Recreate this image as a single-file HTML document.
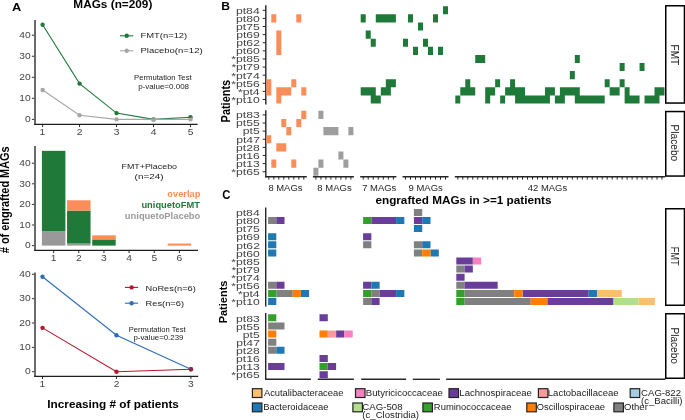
<!DOCTYPE html>
<html><head><meta charset="utf-8"><style>
html,body{margin:0;padding:0;background:#fff;overflow:hidden;}
svg{display:block;will-change:transform;filter:blur(0.25px);font-family:"Liberation Sans", sans-serif;}
</style></head><body>
<svg width="685" height="420" viewBox="0 0 685 420">
<rect width="685" height="420" fill="#fff"/>
<text transform="translate(11.88,10.70) scale(1.1669,1.0000)" font-size="11.00" font-weight="bold" fill="#000">A</text>
<text transform="translate(73.33,8.00) scale(1.0364,1.0000)" font-size="11.40" font-weight="bold" fill="#000">MAGs (n=209)</text>
<line x1="35.00" y1="20.00" x2="35.00" y2="124.90" stroke="#6b6b6b" stroke-width="2.0" />
<line x1="34.20" y1="124.40" x2="197.60" y2="124.40" stroke="#1e1e1e" stroke-width="1.2" />
<line x1="31.90" y1="119.40" x2="34.20" y2="119.40" stroke="#333" stroke-width="1.0" />
<line x1="31.90" y1="98.35" x2="34.20" y2="98.35" stroke="#333" stroke-width="1.0" />
<line x1="31.90" y1="77.30" x2="34.20" y2="77.30" stroke="#333" stroke-width="1.0" />
<line x1="31.90" y1="56.25" x2="34.20" y2="56.25" stroke="#333" stroke-width="1.0" />
<line x1="31.90" y1="35.20" x2="34.20" y2="35.20" stroke="#333" stroke-width="1.0" />
<line x1="42.60" y1="125.00" x2="42.60" y2="127.10" stroke="#2a2a2a" stroke-width="1.0" />
<line x1="79.57" y1="125.00" x2="79.57" y2="127.10" stroke="#2a2a2a" stroke-width="1.0" />
<line x1="116.54" y1="125.00" x2="116.54" y2="127.10" stroke="#2a2a2a" stroke-width="1.0" />
<line x1="153.51" y1="125.00" x2="153.51" y2="127.10" stroke="#2a2a2a" stroke-width="1.0" />
<line x1="190.48" y1="125.00" x2="190.48" y2="127.10" stroke="#2a2a2a" stroke-width="1.0" />
<text transform="translate(24.97,122.14) scale(1.2200,1.0000)" font-size="8.40" font-weight="normal" fill="#444444">0</text>
<text transform="translate(19.28,101.09) scale(1.2200,1.0000)" font-size="8.40" font-weight="normal" fill="#444444">10</text>
<text transform="translate(19.28,80.04) scale(1.2200,1.0000)" font-size="8.40" font-weight="normal" fill="#444444">20</text>
<text transform="translate(19.28,58.99) scale(1.2200,1.0000)" font-size="8.40" font-weight="normal" fill="#444444">30</text>
<text transform="translate(19.28,37.94) scale(1.2200,1.0000)" font-size="8.40" font-weight="normal" fill="#444444">40</text>
<text transform="translate(39.60,134.80) scale(1.2200,1.0000)" font-size="8.40" font-weight="normal" fill="#444444">1</text>
<text transform="translate(76.73,134.80) scale(1.2200,1.0000)" font-size="8.40" font-weight="normal" fill="#444444">2</text>
<text transform="translate(113.70,134.80) scale(1.2200,1.0000)" font-size="8.40" font-weight="normal" fill="#444444">3</text>
<text transform="translate(150.72,134.80) scale(1.2200,1.0000)" font-size="8.40" font-weight="normal" fill="#444444">4</text>
<text transform="translate(187.64,134.80) scale(1.2200,1.0000)" font-size="8.40" font-weight="normal" fill="#444444">5</text>
<circle cx="42.60" cy="24.68" r="2.2" fill="#1f7a3a"/>
<circle cx="79.57" cy="83.62" r="2.2" fill="#1f7a3a"/>
<circle cx="116.54" cy="113.09" r="2.2" fill="#1f7a3a"/>
<circle cx="153.51" cy="119.40" r="2.2" fill="#1f7a3a"/>
<circle cx="190.48" cy="117.30" r="2.2" fill="#1f7a3a"/>
<circle cx="42.60" cy="89.93" r="2.2" fill="#a6a6a6"/>
<circle cx="79.57" cy="115.19" r="2.2" fill="#a6a6a6"/>
<circle cx="116.54" cy="119.40" r="2.2" fill="#a6a6a6"/>
<circle cx="153.51" cy="119.40" r="2.2" fill="#a6a6a6"/>
<circle cx="190.48" cy="119.40" r="2.2" fill="#a6a6a6"/>
<polyline points="42.60,24.68 79.57,83.62 116.54,113.09 153.51,119.40 190.48,117.30" fill="none" stroke="#1f7a3a" stroke-width="1.1"/>
<polyline points="42.60,89.93 79.57,115.19 116.54,119.40 153.51,119.40 190.48,119.40" fill="none" stroke="#a6a6a6" stroke-width="1.1"/>
<line x1="120.00" y1="35.80" x2="133.30" y2="35.80" stroke="#1f7a3a" stroke-width="1.1" />
<circle cx="126.7" cy="35.8" r="2.2" fill="#1f7a3a"/>
<line x1="120.00" y1="50.80" x2="133.30" y2="50.80" stroke="#a6a6a6" stroke-width="1.1" />
<circle cx="126.7" cy="50.8" r="2.2" fill="#a6a6a6"/>
<text transform="translate(140.45,37.80) scale(1.2395,1.0000)" font-size="7.60" font-weight="normal" fill="#1a1a1a">FMT(n=12)</text>
<text transform="translate(140.44,53.20) scale(1.2540,1.0000)" font-size="7.60" font-weight="normal" fill="#1a1a1a">Placebo(n=12)</text>
<text transform="translate(134.08,80.00) scale(1.1004,1.0000)" font-size="7.00" font-weight="normal" fill="#1a1a1a">Permutation Test</text>
<text transform="translate(138.18,88.60) scale(1.1433,1.0000)" font-size="7.00" font-weight="normal" fill="#1a1a1a">p-value=0.008</text>
<line x1="35.00" y1="146.00" x2="35.00" y2="250.90" stroke="#6b6b6b" stroke-width="2.0" />
<line x1="34.20" y1="250.40" x2="198.00" y2="250.40" stroke="#1e1e1e" stroke-width="1.2" />
<line x1="31.90" y1="245.60" x2="34.20" y2="245.60" stroke="#333" stroke-width="1.0" />
<line x1="31.90" y1="225.00" x2="34.20" y2="225.00" stroke="#333" stroke-width="1.0" />
<line x1="31.90" y1="204.40" x2="34.20" y2="204.40" stroke="#333" stroke-width="1.0" />
<line x1="31.90" y1="183.80" x2="34.20" y2="183.80" stroke="#333" stroke-width="1.0" />
<line x1="31.90" y1="163.20" x2="34.20" y2="163.20" stroke="#333" stroke-width="1.0" />
<line x1="53.65" y1="251.00" x2="53.65" y2="253.10" stroke="#2a2a2a" stroke-width="1.0" />
<line x1="78.80" y1="251.00" x2="78.80" y2="253.10" stroke="#2a2a2a" stroke-width="1.0" />
<line x1="103.95" y1="251.00" x2="103.95" y2="253.10" stroke="#2a2a2a" stroke-width="1.0" />
<line x1="129.10" y1="251.00" x2="129.10" y2="253.10" stroke="#2a2a2a" stroke-width="1.0" />
<line x1="154.25" y1="251.00" x2="154.25" y2="253.10" stroke="#2a2a2a" stroke-width="1.0" />
<line x1="179.40" y1="251.00" x2="179.40" y2="253.10" stroke="#2a2a2a" stroke-width="1.0" />
<text transform="translate(24.97,248.34) scale(1.2200,1.0000)" font-size="8.40" font-weight="normal" fill="#444444">0</text>
<text transform="translate(19.28,227.74) scale(1.2200,1.0000)" font-size="8.40" font-weight="normal" fill="#444444">10</text>
<text transform="translate(19.28,207.14) scale(1.2200,1.0000)" font-size="8.40" font-weight="normal" fill="#444444">20</text>
<text transform="translate(19.28,186.54) scale(1.2200,1.0000)" font-size="8.40" font-weight="normal" fill="#444444">30</text>
<text transform="translate(19.28,165.94) scale(1.2200,1.0000)" font-size="8.40" font-weight="normal" fill="#444444">40</text>
<text transform="translate(50.65,260.80) scale(1.2200,1.0000)" font-size="8.40" font-weight="normal" fill="#444444">1</text>
<text transform="translate(75.96,260.80) scale(1.2200,1.0000)" font-size="8.40" font-weight="normal" fill="#444444">2</text>
<text transform="translate(101.11,260.80) scale(1.2200,1.0000)" font-size="8.40" font-weight="normal" fill="#444444">3</text>
<text transform="translate(126.31,260.80) scale(1.2200,1.0000)" font-size="8.40" font-weight="normal" fill="#444444">4</text>
<text transform="translate(151.41,260.80) scale(1.2200,1.0000)" font-size="8.40" font-weight="normal" fill="#444444">5</text>
<text transform="translate(176.50,260.80) scale(1.2200,1.0000)" font-size="8.40" font-weight="normal" fill="#444444">6</text>
<rect x="41.90" y="231.18" width="23.50" height="14.42" fill="#999999" />
<rect x="41.90" y="150.84" width="23.50" height="80.34" fill="#1f7a3a" />
<rect x="67.05" y="243.54" width="23.50" height="2.06" fill="#999999" />
<rect x="67.05" y="210.58" width="23.50" height="32.96" fill="#1f7a3a" />
<rect x="67.05" y="200.28" width="23.50" height="10.30" fill="#fc8d59" />
<rect x="92.20" y="239.42" width="23.50" height="6.18" fill="#1f7a3a" />
<rect x="92.20" y="235.30" width="23.50" height="4.12" fill="#fc8d59" />
<rect x="167.65" y="243.54" width="23.50" height="2.06" fill="#fc8d59" />
<text transform="translate(121.49,168.90) scale(1.1854,1.0000)" font-size="7.50" font-weight="normal" fill="#1a1a1a">FMT+Placebo</text>
<text transform="translate(134.61,179.10) scale(1.3214,1.0000)" font-size="7.50" font-weight="normal" fill="#1a1a1a">(n=24)</text>
<text transform="translate(167.33,196.60) scale(1.0808,1.0000)" font-size="8.60" font-weight="bold" fill="#fc8d59">overlap</text>
<text transform="translate(141.44,207.80) scale(1.0831,1.0000)" font-size="8.60" font-weight="bold" fill="#1f7a3a">uniquetoFMT</text>
<text transform="translate(124.84,219.10) scale(1.0904,1.0000)" font-size="8.60" font-weight="bold" fill="#999999">uniquetoPlacebo</text>
<text transform="translate(8.90,253.16) rotate(-90) scale(0.8887,1)" font-size="12.30" font-weight="bold" fill="#000"># of engrafted MAGs</text>
<line x1="35.00" y1="272.50" x2="35.00" y2="376.40" stroke="#6b6b6b" stroke-width="2.0" />
<line x1="34.20" y1="376.30" x2="198.20" y2="376.30" stroke="#1e1e1e" stroke-width="1.2" />
<line x1="31.90" y1="371.70" x2="34.20" y2="371.70" stroke="#333" stroke-width="1.0" />
<line x1="31.90" y1="347.35" x2="34.20" y2="347.35" stroke="#333" stroke-width="1.0" />
<line x1="31.90" y1="323.00" x2="34.20" y2="323.00" stroke="#333" stroke-width="1.0" />
<line x1="31.90" y1="298.65" x2="34.20" y2="298.65" stroke="#333" stroke-width="1.0" />
<line x1="31.90" y1="274.30" x2="34.20" y2="274.30" stroke="#333" stroke-width="1.0" />
<line x1="42.50" y1="376.90" x2="42.50" y2="379.00" stroke="#2a2a2a" stroke-width="1.0" />
<line x1="116.50" y1="376.90" x2="116.50" y2="379.00" stroke="#2a2a2a" stroke-width="1.0" />
<line x1="190.90" y1="376.90" x2="190.90" y2="379.00" stroke="#2a2a2a" stroke-width="1.0" />
<text transform="translate(24.97,374.44) scale(1.2200,1.0000)" font-size="8.40" font-weight="normal" fill="#444444">0</text>
<text transform="translate(19.28,350.09) scale(1.2200,1.0000)" font-size="8.40" font-weight="normal" fill="#444444">10</text>
<text transform="translate(19.28,325.74) scale(1.2200,1.0000)" font-size="8.40" font-weight="normal" fill="#444444">20</text>
<text transform="translate(19.28,301.39) scale(1.2200,1.0000)" font-size="8.40" font-weight="normal" fill="#444444">30</text>
<text transform="translate(19.28,277.04) scale(1.2200,1.0000)" font-size="8.40" font-weight="normal" fill="#444444">40</text>
<text transform="translate(39.50,386.80) scale(1.2200,1.0000)" font-size="8.40" font-weight="normal" fill="#444444">1</text>
<text transform="translate(113.66,386.80) scale(1.2200,1.0000)" font-size="8.40" font-weight="normal" fill="#444444">2</text>
<text transform="translate(188.06,386.80) scale(1.2200,1.0000)" font-size="8.40" font-weight="normal" fill="#444444">3</text>
<circle cx="42.50" cy="276.74" r="2.2" fill="#2f6db5"/>
<circle cx="116.50" cy="335.18" r="2.2" fill="#2f6db5"/>
<circle cx="190.90" cy="369.26" r="2.2" fill="#2f6db5"/>
<circle cx="42.50" cy="327.87" r="2.2" fill="#b2182b"/>
<circle cx="116.50" cy="371.70" r="2.2" fill="#b2182b"/>
<circle cx="190.90" cy="369.26" r="2.2" fill="#b2182b"/>
<polyline points="42.50,276.74 116.50,335.18 190.90,369.26" fill="none" stroke="#2f6db5" stroke-width="1.1"/>
<polyline points="42.50,327.87 116.50,371.70 190.90,369.26" fill="none" stroke="#b2182b" stroke-width="1.1"/>
<line x1="124.90" y1="287.40" x2="138.10" y2="287.40" stroke="#b2182b" stroke-width="1.1" />
<circle cx="131.6" cy="287.4" r="2.2" fill="#b2182b"/>
<line x1="124.90" y1="303.20" x2="138.10" y2="303.20" stroke="#2f6db5" stroke-width="1.1" />
<circle cx="131.6" cy="303.2" r="2.2" fill="#2f6db5"/>
<text transform="translate(145.56,290.50) scale(1.1611,1.0000)" font-size="8.00" font-weight="normal" fill="#1a1a1a">NoRes(n=6)</text>
<text transform="translate(145.56,306.10) scale(1.1625,1.0000)" font-size="8.00" font-weight="normal" fill="#1a1a1a">Res(n=6)</text>
<text transform="translate(128.79,331.70) scale(1.0869,1.0000)" font-size="7.00" font-weight="normal" fill="#1a1a1a">Permutation Test</text>
<text transform="translate(133.39,340.30) scale(1.1237,1.0000)" font-size="7.00" font-weight="normal" fill="#1a1a1a">p-value=0.239</text>
<text transform="translate(47.33,407.80) scale(1.0820,1.0000)" font-size="10.90" font-weight="bold" fill="#000">Increasing # of patients</text>
<text transform="translate(221.21,10.00) scale(1.0458,1.0000)" font-size="11.60" font-weight="bold" fill="#000">B</text>
<text transform="translate(235.95,13.65) scale(1.2700,1.0000)" font-size="9.60" font-weight="normal" fill="#444444">pt84</text>
<line x1="262.70" y1="10.30" x2="265.80" y2="10.30" stroke="#262626" stroke-width="1.0" />
<text transform="translate(236.01,21.76) scale(1.2700,1.0000)" font-size="9.60" font-weight="normal" fill="#444444">pt80</text>
<line x1="262.70" y1="18.41" x2="265.80" y2="18.41" stroke="#262626" stroke-width="1.0" />
<text transform="translate(236.07,29.87) scale(1.2700,1.0000)" font-size="9.60" font-weight="normal" fill="#444444">pt75</text>
<line x1="262.70" y1="26.52" x2="265.80" y2="26.52" stroke="#262626" stroke-width="1.0" />
<text transform="translate(236.14,37.98) scale(1.2700,1.0000)" font-size="9.60" font-weight="normal" fill="#444444">pt69</text>
<line x1="262.70" y1="34.63" x2="265.80" y2="34.63" stroke="#262626" stroke-width="1.0" />
<text transform="translate(236.20,46.09) scale(1.2700,1.0000)" font-size="9.60" font-weight="normal" fill="#444444">pt62</text>
<line x1="262.70" y1="42.74" x2="265.80" y2="42.74" stroke="#262626" stroke-width="1.0" />
<text transform="translate(236.01,54.20) scale(1.2700,1.0000)" font-size="9.60" font-weight="normal" fill="#444444">pt60</text>
<line x1="262.70" y1="50.85" x2="265.80" y2="50.85" stroke="#262626" stroke-width="1.0" />
<text transform="translate(231.32,62.31) scale(1.2700,1.0000)" font-size="9.60" font-weight="normal" fill="#444444">*pt85</text>
<line x1="262.70" y1="58.96" x2="265.80" y2="58.96" stroke="#262626" stroke-width="1.0" />
<text transform="translate(231.38,70.42) scale(1.2700,1.0000)" font-size="9.60" font-weight="normal" fill="#444444">*pt79</text>
<line x1="262.70" y1="67.07" x2="265.80" y2="67.07" stroke="#262626" stroke-width="1.0" />
<text transform="translate(231.20,78.53) scale(1.2700,1.0000)" font-size="9.60" font-weight="normal" fill="#444444">*pt74</text>
<line x1="262.70" y1="75.18" x2="265.80" y2="75.18" stroke="#262626" stroke-width="1.0" />
<text transform="translate(231.32,86.64) scale(1.2700,1.0000)" font-size="9.60" font-weight="normal" fill="#444444">*pt56</text>
<line x1="262.70" y1="83.29" x2="265.80" y2="83.29" stroke="#262626" stroke-width="1.0" />
<text transform="translate(237.96,94.75) scale(1.2700,1.0000)" font-size="9.60" font-weight="normal" fill="#444444">*pt4</text>
<line x1="262.70" y1="91.40" x2="265.80" y2="91.40" stroke="#262626" stroke-width="1.0" />
<text transform="translate(231.26,102.86) scale(1.2700,1.0000)" font-size="9.60" font-weight="normal" fill="#444444">*pt10</text>
<line x1="262.70" y1="99.51" x2="265.80" y2="99.51" stroke="#262626" stroke-width="1.0" />
<text transform="translate(236.07,118.25) scale(1.2700,1.0000)" font-size="9.60" font-weight="normal" fill="#444444">pt83</text>
<line x1="262.70" y1="114.90" x2="265.80" y2="114.90" stroke="#262626" stroke-width="1.0" />
<text transform="translate(236.07,126.37) scale(1.2700,1.0000)" font-size="9.60" font-weight="normal" fill="#444444">pt55</text>
<line x1="262.70" y1="123.02" x2="265.80" y2="123.02" stroke="#262626" stroke-width="1.0" />
<text transform="translate(242.84,134.49) scale(1.2700,1.0000)" font-size="9.60" font-weight="normal" fill="#444444">pt5</text>
<line x1="262.70" y1="131.14" x2="265.80" y2="131.14" stroke="#262626" stroke-width="1.0" />
<text transform="translate(236.20,142.61) scale(1.2700,1.0000)" font-size="9.60" font-weight="normal" fill="#444444">pt47</text>
<line x1="262.70" y1="139.26" x2="265.80" y2="139.26" stroke="#262626" stroke-width="1.0" />
<text transform="translate(236.07,150.73) scale(1.2700,1.0000)" font-size="9.60" font-weight="normal" fill="#444444">pt28</text>
<line x1="262.70" y1="147.38" x2="265.80" y2="147.38" stroke="#262626" stroke-width="1.0" />
<text transform="translate(236.07,158.85) scale(1.2700,1.0000)" font-size="9.60" font-weight="normal" fill="#444444">pt16</text>
<line x1="262.70" y1="155.50" x2="265.80" y2="155.50" stroke="#262626" stroke-width="1.0" />
<text transform="translate(236.07,166.97) scale(1.2700,1.0000)" font-size="9.60" font-weight="normal" fill="#444444">pt13</text>
<line x1="262.70" y1="163.62" x2="265.80" y2="163.62" stroke="#262626" stroke-width="1.0" />
<text transform="translate(231.32,175.09) scale(1.2700,1.0000)" font-size="9.60" font-weight="normal" fill="#444444">*pt65</text>
<line x1="262.70" y1="171.74" x2="265.80" y2="171.74" stroke="#262626" stroke-width="1.0" />
<line x1="265.80" y1="5.30" x2="265.80" y2="104.50" stroke="#262626" stroke-width="1.4" />
<line x1="265.80" y1="110.30" x2="265.80" y2="177.40" stroke="#262626" stroke-width="1.4" />
<line x1="265.10" y1="176.80" x2="306.80" y2="176.80" stroke="#262626" stroke-width="1.4" />
<line x1="268.80" y1="176.80" x2="268.80" y2="179.60" stroke="#262626" stroke-width="1.0" />
<line x1="273.80" y1="176.80" x2="273.80" y2="179.60" stroke="#262626" stroke-width="1.0" />
<line x1="278.80" y1="176.80" x2="278.80" y2="179.60" stroke="#262626" stroke-width="1.0" />
<line x1="283.80" y1="176.80" x2="283.80" y2="179.60" stroke="#262626" stroke-width="1.0" />
<line x1="288.80" y1="176.80" x2="288.80" y2="179.60" stroke="#262626" stroke-width="1.0" />
<line x1="293.80" y1="176.80" x2="293.80" y2="179.60" stroke="#262626" stroke-width="1.0" />
<line x1="298.80" y1="176.80" x2="298.80" y2="179.60" stroke="#262626" stroke-width="1.0" />
<line x1="303.80" y1="176.80" x2="303.80" y2="179.60" stroke="#262626" stroke-width="1.0" />
<line x1="312.90" y1="176.80" x2="353.90" y2="176.80" stroke="#262626" stroke-width="1.4" />
<line x1="315.90" y1="176.80" x2="315.90" y2="179.60" stroke="#262626" stroke-width="1.0" />
<line x1="320.90" y1="176.80" x2="320.90" y2="179.60" stroke="#262626" stroke-width="1.0" />
<line x1="325.90" y1="176.80" x2="325.90" y2="179.60" stroke="#262626" stroke-width="1.0" />
<line x1="330.90" y1="176.80" x2="330.90" y2="179.60" stroke="#262626" stroke-width="1.0" />
<line x1="335.90" y1="176.80" x2="335.90" y2="179.60" stroke="#262626" stroke-width="1.0" />
<line x1="340.90" y1="176.80" x2="340.90" y2="179.60" stroke="#262626" stroke-width="1.0" />
<line x1="345.90" y1="176.80" x2="345.90" y2="179.60" stroke="#262626" stroke-width="1.0" />
<line x1="350.90" y1="176.80" x2="350.90" y2="179.60" stroke="#262626" stroke-width="1.0" />
<line x1="360.18" y1="176.80" x2="396.40" y2="176.80" stroke="#262626" stroke-width="1.4" />
<line x1="363.20" y1="176.80" x2="363.20" y2="179.60" stroke="#262626" stroke-width="1.0" />
<line x1="368.23" y1="176.80" x2="368.23" y2="179.60" stroke="#262626" stroke-width="1.0" />
<line x1="373.26" y1="176.80" x2="373.26" y2="179.60" stroke="#262626" stroke-width="1.0" />
<line x1="378.29" y1="176.80" x2="378.29" y2="179.60" stroke="#262626" stroke-width="1.0" />
<line x1="383.32" y1="176.80" x2="383.32" y2="179.60" stroke="#262626" stroke-width="1.0" />
<line x1="388.35" y1="176.80" x2="388.35" y2="179.60" stroke="#262626" stroke-width="1.0" />
<line x1="393.38" y1="176.80" x2="393.38" y2="179.60" stroke="#262626" stroke-width="1.0" />
<line x1="402.50" y1="176.80" x2="448.50" y2="176.80" stroke="#262626" stroke-width="1.4" />
<line x1="405.50" y1="176.80" x2="405.50" y2="179.60" stroke="#262626" stroke-width="1.0" />
<line x1="410.50" y1="176.80" x2="410.50" y2="179.60" stroke="#262626" stroke-width="1.0" />
<line x1="415.50" y1="176.80" x2="415.50" y2="179.60" stroke="#262626" stroke-width="1.0" />
<line x1="420.50" y1="176.80" x2="420.50" y2="179.60" stroke="#262626" stroke-width="1.0" />
<line x1="425.50" y1="176.80" x2="425.50" y2="179.60" stroke="#262626" stroke-width="1.0" />
<line x1="430.50" y1="176.80" x2="430.50" y2="179.60" stroke="#262626" stroke-width="1.0" />
<line x1="435.50" y1="176.80" x2="435.50" y2="179.60" stroke="#262626" stroke-width="1.0" />
<line x1="440.50" y1="176.80" x2="440.50" y2="179.60" stroke="#262626" stroke-width="1.0" />
<line x1="445.50" y1="176.80" x2="445.50" y2="179.60" stroke="#262626" stroke-width="1.0" />
<line x1="454.81" y1="176.80" x2="664.97" y2="176.80" stroke="#262626" stroke-width="1.4" />
<line x1="457.80" y1="176.80" x2="457.80" y2="179.60" stroke="#262626" stroke-width="1.0" />
<line x1="462.78" y1="176.80" x2="462.78" y2="179.60" stroke="#262626" stroke-width="1.0" />
<line x1="467.76" y1="176.80" x2="467.76" y2="179.60" stroke="#262626" stroke-width="1.0" />
<line x1="472.74" y1="176.80" x2="472.74" y2="179.60" stroke="#262626" stroke-width="1.0" />
<line x1="477.72" y1="176.80" x2="477.72" y2="179.60" stroke="#262626" stroke-width="1.0" />
<line x1="482.70" y1="176.80" x2="482.70" y2="179.60" stroke="#262626" stroke-width="1.0" />
<line x1="487.68" y1="176.80" x2="487.68" y2="179.60" stroke="#262626" stroke-width="1.0" />
<line x1="492.66" y1="176.80" x2="492.66" y2="179.60" stroke="#262626" stroke-width="1.0" />
<line x1="497.64" y1="176.80" x2="497.64" y2="179.60" stroke="#262626" stroke-width="1.0" />
<line x1="502.62" y1="176.80" x2="502.62" y2="179.60" stroke="#262626" stroke-width="1.0" />
<line x1="507.60" y1="176.80" x2="507.60" y2="179.60" stroke="#262626" stroke-width="1.0" />
<line x1="512.58" y1="176.80" x2="512.58" y2="179.60" stroke="#262626" stroke-width="1.0" />
<line x1="517.56" y1="176.80" x2="517.56" y2="179.60" stroke="#262626" stroke-width="1.0" />
<line x1="522.54" y1="176.80" x2="522.54" y2="179.60" stroke="#262626" stroke-width="1.0" />
<line x1="527.52" y1="176.80" x2="527.52" y2="179.60" stroke="#262626" stroke-width="1.0" />
<line x1="532.50" y1="176.80" x2="532.50" y2="179.60" stroke="#262626" stroke-width="1.0" />
<line x1="537.48" y1="176.80" x2="537.48" y2="179.60" stroke="#262626" stroke-width="1.0" />
<line x1="542.46" y1="176.80" x2="542.46" y2="179.60" stroke="#262626" stroke-width="1.0" />
<line x1="547.44" y1="176.80" x2="547.44" y2="179.60" stroke="#262626" stroke-width="1.0" />
<line x1="552.42" y1="176.80" x2="552.42" y2="179.60" stroke="#262626" stroke-width="1.0" />
<line x1="557.40" y1="176.80" x2="557.40" y2="179.60" stroke="#262626" stroke-width="1.0" />
<line x1="562.38" y1="176.80" x2="562.38" y2="179.60" stroke="#262626" stroke-width="1.0" />
<line x1="567.36" y1="176.80" x2="567.36" y2="179.60" stroke="#262626" stroke-width="1.0" />
<line x1="572.34" y1="176.80" x2="572.34" y2="179.60" stroke="#262626" stroke-width="1.0" />
<line x1="577.32" y1="176.80" x2="577.32" y2="179.60" stroke="#262626" stroke-width="1.0" />
<line x1="582.30" y1="176.80" x2="582.30" y2="179.60" stroke="#262626" stroke-width="1.0" />
<line x1="587.28" y1="176.80" x2="587.28" y2="179.60" stroke="#262626" stroke-width="1.0" />
<line x1="592.26" y1="176.80" x2="592.26" y2="179.60" stroke="#262626" stroke-width="1.0" />
<line x1="597.24" y1="176.80" x2="597.24" y2="179.60" stroke="#262626" stroke-width="1.0" />
<line x1="602.22" y1="176.80" x2="602.22" y2="179.60" stroke="#262626" stroke-width="1.0" />
<line x1="607.20" y1="176.80" x2="607.20" y2="179.60" stroke="#262626" stroke-width="1.0" />
<line x1="612.18" y1="176.80" x2="612.18" y2="179.60" stroke="#262626" stroke-width="1.0" />
<line x1="617.16" y1="176.80" x2="617.16" y2="179.60" stroke="#262626" stroke-width="1.0" />
<line x1="622.14" y1="176.80" x2="622.14" y2="179.60" stroke="#262626" stroke-width="1.0" />
<line x1="627.12" y1="176.80" x2="627.12" y2="179.60" stroke="#262626" stroke-width="1.0" />
<line x1="632.10" y1="176.80" x2="632.10" y2="179.60" stroke="#262626" stroke-width="1.0" />
<line x1="637.08" y1="176.80" x2="637.08" y2="179.60" stroke="#262626" stroke-width="1.0" />
<line x1="642.06" y1="176.80" x2="642.06" y2="179.60" stroke="#262626" stroke-width="1.0" />
<line x1="647.04" y1="176.80" x2="647.04" y2="179.60" stroke="#262626" stroke-width="1.0" />
<line x1="652.02" y1="176.80" x2="652.02" y2="179.60" stroke="#262626" stroke-width="1.0" />
<line x1="657.00" y1="176.80" x2="657.00" y2="179.60" stroke="#262626" stroke-width="1.0" />
<line x1="661.98" y1="176.80" x2="661.98" y2="179.60" stroke="#262626" stroke-width="1.0" />
<text transform="translate(268.38,190.90) scale(1.0143,1.0000)" font-size="9.30" font-weight="normal" fill="#1e1e1e">8 MAGs</text>
<text transform="translate(317.37,190.90) scale(1.0235,1.0000)" font-size="9.30" font-weight="normal" fill="#1e1e1e">8 MAGs</text>
<text transform="translate(362.13,190.90) scale(1.0188,1.0000)" font-size="9.30" font-weight="normal" fill="#1e1e1e">7 MAGs</text>
<text transform="translate(408.57,190.90) scale(1.0174,1.0000)" font-size="9.30" font-weight="normal" fill="#1e1e1e">9 MAGs</text>
<text transform="translate(527.81,190.90) scale(1.0165,1.0000)" font-size="9.30" font-weight="normal" fill="#1e1e1e">42 MAGs</text>
<path d="M271.30 14.36h5.00v8.11h-5.00zM296.30 14.36h5.00v8.11h-5.00zM276.30 30.57h5.00v8.11h-5.00zM276.30 38.68h5.00v8.11h-5.00zM276.30 46.79h5.00v8.11h-5.00zM266.30 79.23h5.00v8.11h-5.00zM291.30 79.23h5.00v8.11h-5.00zM266.30 87.34h5.00v8.11h-5.00zM276.30 87.34h15.00v8.11h-15.00zM301.30 87.34h5.00v8.11h-5.00zM276.30 95.45h5.00v8.11h-5.00zM301.30 110.84h5.00v8.12h-5.00zM281.30 118.96h5.00v8.12h-5.00zM296.30 118.96h5.00v8.12h-5.00zM286.30 127.08h5.00v8.12h-5.00zM266.30 135.20h5.00v8.12h-5.00zM276.30 143.32h10.00v8.12h-10.00zM271.30 159.56h5.00v8.12h-5.00zM291.30 159.56h5.00v8.12h-5.00z" fill="#fc8d59"/>
<path d="M318.40 110.84h5.00v8.12h-5.00zM323.40 127.08h15.00v8.12h-15.00zM348.40 127.08h5.00v8.12h-5.00zM338.40 151.44h5.00v8.12h-5.00zM318.40 159.56h5.00v8.12h-5.00zM343.40 159.56h5.00v8.12h-5.00zM313.40 167.68h5.00v8.12h-5.00z" fill="#9e9e9e"/>
<path d="M360.69 14.36h5.03v8.11h-5.03zM375.77 14.36h20.12v8.11h-20.12zM365.71 30.57h5.03v8.11h-5.03zM370.75 38.68h5.03v8.11h-5.03zM385.83 79.23h10.06v8.11h-10.06zM360.69 87.34h15.09v8.11h-15.09zM380.81 87.34h10.06v8.11h-10.06zM370.75 95.45h10.06v8.11h-10.06zM443.00 6.25h5.00v8.11h-5.00zM408.00 14.36h5.00v8.11h-5.00zM433.00 14.36h5.00v8.11h-5.00zM418.00 22.46h5.00v8.11h-5.00zM403.00 38.68h5.00v8.11h-5.00zM423.00 38.68h5.00v8.11h-5.00zM413.00 46.79h5.00v8.11h-5.00zM428.00 46.79h5.00v8.11h-5.00zM438.00 46.79h5.00v8.11h-5.00zM475.23 54.90h9.96v8.11h-9.96zM574.83 54.90h4.98v8.11h-4.98zM619.65 63.01h4.98v8.11h-4.98zM639.57 63.01h4.98v8.11h-4.98zM569.85 71.12h4.98v8.11h-4.98zM465.27 79.23h4.98v8.11h-4.98zM495.15 79.23h4.98v8.11h-4.98zM510.09 79.23h4.98v8.11h-4.98zM604.71 79.23h4.98v8.11h-4.98zM619.65 79.23h4.98v8.11h-4.98zM460.29 87.34h14.94v8.11h-14.94zM485.19 87.34h9.96v8.11h-9.96zM505.11 87.34h19.92v8.11h-19.92zM544.95 87.34h9.96v8.11h-9.96zM559.89 87.34h19.92v8.11h-19.92zM609.69 87.34h9.96v8.11h-9.96zM624.63 87.34h4.98v8.11h-4.98zM654.51 87.34h9.96v8.11h-9.96zM455.31 95.45h4.98v8.11h-4.98zM485.19 95.45h4.98v8.11h-4.98zM500.13 95.45h4.98v8.11h-4.98zM515.07 95.45h34.86v8.11h-34.86zM554.91 95.45h9.96v8.11h-9.96zM574.83 95.45h29.88v8.11h-29.88zM624.63 95.45h14.94v8.11h-14.94zM644.55 95.45h14.94v8.11h-14.94z" fill="#1f7a3a"/>
<rect x="665.75" y="5.75" width="18.70" height="97.30" fill="#fff" stroke="#000" stroke-width="1.5"/>
<rect x="665.75" y="111.55" width="18.70" height="64.50" fill="#fff" stroke="#000" stroke-width="1.5"/>
<text transform="translate(671.20,44.60) rotate(90) scale(0.8794,1)" font-size="11.40" font-weight="normal" fill="#1a1a1a">FMT</text>
<text transform="translate(670.60,124.49) rotate(90) scale(0.9234,1)" font-size="11.00" font-weight="normal" fill="#1a1a1a">Placebo</text>
<text transform="translate(229.60,122.41) rotate(-90) scale(0.8966,1)" font-size="12.20" font-weight="bold" fill="#000">Patients</text>
<text transform="translate(222.15,198.90) scale(0.9111,1.0000)" font-size="12.40" font-weight="bold" fill="#000">C</text>
<text transform="translate(375.43,203.60) scale(1.0309,1.0000)" font-size="11.40" font-weight="bold" fill="#000">engrafted MAGs in &gt;=1 patients</text>
<text transform="translate(235.95,216.10) scale(1.2700,1.0000)" font-size="9.60" font-weight="normal" fill="#444444">pt84</text>
<text transform="translate(236.01,224.20) scale(1.2700,1.0000)" font-size="9.60" font-weight="normal" fill="#444444">pt80</text>
<text transform="translate(236.07,232.30) scale(1.2700,1.0000)" font-size="9.60" font-weight="normal" fill="#444444">pt75</text>
<text transform="translate(236.14,240.40) scale(1.2700,1.0000)" font-size="9.60" font-weight="normal" fill="#444444">pt69</text>
<text transform="translate(236.20,248.50) scale(1.2700,1.0000)" font-size="9.60" font-weight="normal" fill="#444444">pt62</text>
<text transform="translate(236.01,256.60) scale(1.2700,1.0000)" font-size="9.60" font-weight="normal" fill="#444444">pt60</text>
<text transform="translate(231.32,264.70) scale(1.2700,1.0000)" font-size="9.60" font-weight="normal" fill="#444444">*pt85</text>
<text transform="translate(231.38,272.80) scale(1.2700,1.0000)" font-size="9.60" font-weight="normal" fill="#444444">*pt79</text>
<text transform="translate(231.20,280.90) scale(1.2700,1.0000)" font-size="9.60" font-weight="normal" fill="#444444">*pt74</text>
<text transform="translate(231.32,289.00) scale(1.2700,1.0000)" font-size="9.60" font-weight="normal" fill="#444444">*pt56</text>
<text transform="translate(237.96,297.10) scale(1.2700,1.0000)" font-size="9.60" font-weight="normal" fill="#444444">*pt4</text>
<text transform="translate(231.26,305.20) scale(1.2700,1.0000)" font-size="9.60" font-weight="normal" fill="#444444">*pt10</text>
<text transform="translate(236.07,321.50) scale(1.2700,1.0000)" font-size="9.60" font-weight="normal" fill="#444444">pt83</text>
<text transform="translate(236.07,329.62) scale(1.2700,1.0000)" font-size="9.60" font-weight="normal" fill="#444444">pt55</text>
<text transform="translate(242.84,337.74) scale(1.2700,1.0000)" font-size="9.60" font-weight="normal" fill="#444444">pt5</text>
<text transform="translate(236.20,345.86) scale(1.2700,1.0000)" font-size="9.60" font-weight="normal" fill="#444444">pt47</text>
<text transform="translate(236.07,353.98) scale(1.2700,1.0000)" font-size="9.60" font-weight="normal" fill="#444444">pt28</text>
<text transform="translate(236.07,362.10) scale(1.2700,1.0000)" font-size="9.60" font-weight="normal" fill="#444444">pt16</text>
<text transform="translate(236.07,370.22) scale(1.2700,1.0000)" font-size="9.60" font-weight="normal" fill="#444444">pt13</text>
<text transform="translate(231.32,378.34) scale(1.2700,1.0000)" font-size="9.60" font-weight="normal" fill="#444444">*pt65</text>
<line x1="265.70" y1="207.60" x2="265.70" y2="306.60" stroke="#262626" stroke-width="1.4" />
<line x1="265.70" y1="312.90" x2="265.70" y2="380.00" stroke="#262626" stroke-width="1.4" />
<line x1="265.00" y1="379.30" x2="310.90" y2="379.30" stroke="#262626" stroke-width="1.4" />
<line x1="317.80" y1="379.30" x2="353.90" y2="379.30" stroke="#262626" stroke-width="1.4" />
<line x1="361.20" y1="379.30" x2="406.10" y2="379.30" stroke="#262626" stroke-width="1.4" />
<line x1="412.80" y1="379.30" x2="439.90" y2="379.30" stroke="#262626" stroke-width="1.4" />
<line x1="446.20" y1="379.30" x2="665.30" y2="379.30" stroke="#262626" stroke-width="1.4" />
<path d="M268.10 217.00h8.20v7.00h-8.20zM268.10 281.80h8.20v7.00h-8.20zM276.30 289.90h16.40v7.00h-16.40zM268.10 322.42h16.40v7.00h-16.40zM268.10 338.66h8.20v7.00h-8.20zM268.10 346.78h8.20v7.00h-8.20zM363.10 241.30h8.25v7.00h-8.25zM371.35 289.90h8.25v7.00h-8.25zM363.10 298.00h8.25v7.00h-8.25zM413.90 208.90h8.30v7.00h-8.30zM413.90 241.30h8.30v7.00h-8.30zM413.90 249.40h8.30v7.00h-8.30zM456.30 265.60h8.28v7.00h-8.28zM456.30 281.80h8.28v7.00h-8.28zM464.57 289.90h49.65v7.00h-49.65zM464.57 298.00h66.20v7.00h-66.20z" fill="#808080"/>
<path d="M276.30 217.00h8.20v7.00h-8.20zM276.30 281.80h8.20v7.00h-8.20zM268.10 363.02h16.40v7.00h-16.40zM319.50 314.30h8.30v7.00h-8.30zM336.10 330.54h8.30v7.00h-8.30zM319.50 354.90h8.30v7.00h-8.30zM327.80 363.02h8.30v7.00h-8.30zM319.50 371.14h8.30v7.00h-8.30zM371.35 217.00h24.75v7.00h-24.75zM363.10 233.20h8.25v7.00h-8.25zM363.10 281.80h8.25v7.00h-8.25zM379.60 289.90h16.50v7.00h-16.50zM371.35 298.00h8.25v7.00h-8.25zM413.90 217.00h8.30v7.00h-8.30zM456.30 257.50h16.55v7.00h-16.55zM464.57 265.60h8.28v7.00h-8.28zM456.30 273.70h8.28v7.00h-8.28zM464.57 281.80h33.10v7.00h-33.10zM522.50 289.90h66.20v7.00h-66.20zM547.33 298.00h66.20v7.00h-66.20z" fill="#6a3d9a"/>
<path d="M268.10 233.20h8.20v7.00h-8.20zM268.10 241.30h8.20v7.00h-8.20zM268.10 249.40h8.20v7.00h-8.20zM300.90 289.90h8.20v7.00h-8.20zM268.10 298.00h8.20v7.00h-8.20zM276.30 346.78h8.20v7.00h-8.20zM396.10 217.00h8.25v7.00h-8.25zM371.35 281.80h8.25v7.00h-8.25zM396.10 289.90h8.25v7.00h-8.25zM422.20 217.00h8.30v7.00h-8.30zM413.90 225.10h8.30v7.00h-8.30zM422.20 241.30h8.30v7.00h-8.30zM430.50 249.40h8.30v7.00h-8.30zM588.70 289.90h8.28v7.00h-8.28z" fill="#1f78b4"/>
<path d="M268.10 289.90h8.20v7.00h-8.20zM268.10 314.30h8.20v7.00h-8.20zM319.50 363.02h8.30v7.00h-8.30zM363.10 217.00h8.25v7.00h-8.25zM363.10 289.90h8.25v7.00h-8.25zM456.30 289.90h8.28v7.00h-8.28zM456.30 298.00h8.28v7.00h-8.28z" fill="#33a02c"/>
<path d="M292.70 289.90h8.20v7.00h-8.20zM268.10 330.54h8.20v7.00h-8.20zM319.50 330.54h8.30v7.00h-8.30zM422.20 249.40h8.30v7.00h-8.30zM514.23 289.90h8.28v7.00h-8.28zM530.77 298.00h16.55v7.00h-16.55z" fill="#ff7f00"/>
<path d="M327.80 330.54h8.30v7.00h-8.30z" fill="#fb9a99"/>
<path d="M344.40 330.54h8.30v7.00h-8.30zM472.85 257.50h8.28v7.00h-8.28z" fill="#f781bf"/>
<path d="M596.98 289.90h24.83v7.00h-24.83zM638.35 298.00h16.55v7.00h-16.55z" fill="#fdbf6f"/>
<path d="M613.52 298.00h24.83v7.00h-24.83z" fill="#b2df8a"/>
<rect x="665.75" y="208.75" width="18.70" height="96.50" fill="#fff" stroke="#000" stroke-width="1.5"/>
<rect x="665.75" y="313.75" width="18.70" height="64.50" fill="#fff" stroke="#000" stroke-width="1.5"/>
<text transform="translate(671.20,246.66) rotate(90) scale(0.8076,1)" font-size="11.40" font-weight="normal" fill="#1a1a1a">FMT</text>
<text transform="translate(670.60,327.39) rotate(90) scale(0.9208,1)" font-size="11.00" font-weight="normal" fill="#1a1a1a">Placebo</text>
<text transform="translate(226.80,323.31) rotate(-90) scale(0.9557,1)" font-size="11.50" font-weight="bold" fill="#000">Patients</text>
<rect x="252.40" y="388.70" width="9.50" height="8.80" fill="#fdbf6f" stroke="#222" stroke-width="1.2"/>
<text transform="translate(263.90,395.90) scale(1.0054,1.0000)" font-size="9.30" font-weight="normal" fill="#1a1a1a">Acutalibacteraceae</text>
<rect x="355.50" y="388.70" width="9.50" height="8.80" fill="#f781bf" stroke="#222" stroke-width="1.2"/>
<text transform="translate(365.83,395.90) scale(1.0285,1.0000)" font-size="9.30" font-weight="normal" fill="#1a1a1a">Butyricicoccaceae</text>
<rect x="449.00" y="388.70" width="9.50" height="8.80" fill="#6a3d9a" stroke="#222" stroke-width="1.2"/>
<text transform="translate(459.34,395.90) scale(1.0250,1.0000)" font-size="9.30" font-weight="normal" fill="#1a1a1a">Lachnospiraceae</text>
<rect x="538.40" y="388.70" width="9.50" height="8.80" fill="#fb9a99" stroke="#222" stroke-width="1.2"/>
<text transform="translate(547.84,395.90) scale(1.0232,1.0000)" font-size="9.30" font-weight="normal" fill="#1a1a1a">Lactobacillaceae</text>
<rect x="630.20" y="388.70" width="9.50" height="8.80" fill="#a6cee3" stroke="#222" stroke-width="1.2"/>
<text transform="translate(641.12,396.10) scale(1.0290,1.0000)" font-size="9.30" font-weight="normal" fill="#1a1a1a">CAG-822</text>
<text transform="translate(641.03,403.80) scale(1.0290,1.0000)" font-size="9.30" font-weight="normal" fill="#1a1a1a">(c_Bacilli)</text>
<rect x="252.40" y="403.00" width="9.50" height="8.80" fill="#1f78b4" stroke="#222" stroke-width="1.2"/>
<text transform="translate(263.15,410.20) scale(1.0115,1.0000)" font-size="9.30" font-weight="normal" fill="#1a1a1a">Bacteroidaceae</text>
<rect x="352.90" y="403.00" width="9.50" height="8.80" fill="#b2df8a" stroke="#222" stroke-width="1.2"/>
<text transform="translate(362.32,410.40) scale(1.0396,1.0000)" font-size="9.30" font-weight="normal" fill="#1a1a1a">CAG-508</text>
<text transform="translate(362.22,418.10) scale(1.0396,1.0000)" font-size="9.30" font-weight="normal" fill="#1a1a1a">(c_Clostridia)</text>
<rect x="422.90" y="403.00" width="9.50" height="8.80" fill="#33a02c" stroke="#222" stroke-width="1.2"/>
<text transform="translate(433.85,410.20) scale(1.0142,1.0000)" font-size="9.30" font-weight="normal" fill="#1a1a1a">Ruminococcaceae</text>
<rect x="526.80" y="403.00" width="9.50" height="8.80" fill="#ff7f00" stroke="#222" stroke-width="1.2"/>
<text transform="translate(536.78,410.20) scale(1.0018,1.0000)" font-size="9.30" font-weight="normal" fill="#1a1a1a">Oscillospiraceae</text>
<rect x="613.90" y="403.00" width="9.50" height="8.80" fill="#808080" stroke="#222" stroke-width="1.2"/>
<text transform="translate(623.97,410.20) scale(1.0268,1.0000)" font-size="9.30" font-weight="normal" fill="#1a1a1a">Other</text>
</svg>
</body></html>
